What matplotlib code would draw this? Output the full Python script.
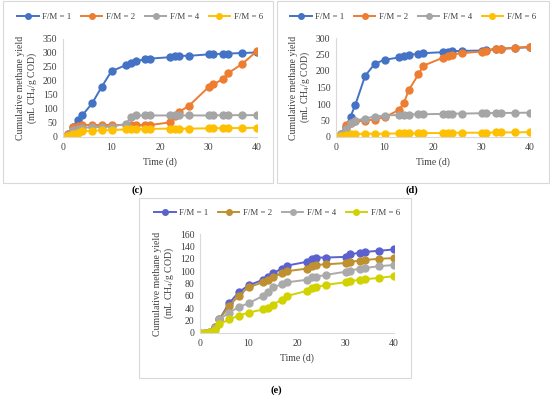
import matplotlib
matplotlib.use("Agg")
import matplotlib.pyplot as plt
from matplotlib.patches import Rectangle

plt.rcParams["font.family"] = ["Liberation Serif", "DejaVu Serif"]
plt.rcParams["mathtext.fontset"] = "custom"
plt.rcParams["mathtext.rm"] = "Liberation Serif"

# sampling days (same for every series)
days = [0, 1, 2, 3, 4, 6, 8, 10, 13, 14, 15, 17, 18, 22, 23, 24, 26, 30, 31, 33, 34, 37, 40]
labels = ["F/M = 1", "F/M = 2", "F/M = 4", "F/M = 6"]

# panel (c)
c_fm1 = [0, 10, 35, 60, 78, 120, 180, 235, 257, 265, 272, 277, 280, 285, 290, 290, 290, 295, 295, 298, 298, 300, 302]
c_fm2 = [0, 10, 35, 40, 43, 43, 43, 43, 43, 43, 43, 43, 43, 52, 75, 90, 112, 178, 188, 207, 227, 262, 307]
c_fm4 = [0, 8, 25, 30, 33, 35, 36, 37, 47, 70, 77, 77, 77, 77, 77, 77, 77, 77, 77, 78, 78, 78, 78]
c_fm6 = [0, 5, 10, 15, 20, 22, 24, 25, 27, 28, 28, 29, 29, 30, 30, 30, 30, 31, 31, 32, 32, 32, 33]

# panel (d)
d_fm1 = [0, 10, 30, 62, 98, 185, 222, 234, 241, 244, 249, 252, 254, 257, 259, 260, 261, 262, 264, 266, 267, 270, 272]
d_fm2 = [0, 10, 35, 42, 47, 50, 53, 60, 82, 103, 142, 190, 216, 240, 245, 250, 254, 259, 262, 267, 268, 270, 274]
d_fm4 = [0, 8, 25, 42, 50, 56, 62, 65, 67, 67, 68, 69, 69, 70, 70, 71, 71, 72, 72, 73, 73, 73, 74]
d_fm6 = [0, 3, 7, 8, 9, 10, 10, 10, 11, 11, 11, 11, 12, 12, 12, 13, 13, 13, 13, 14, 14, 14, 15]

# panel (e)
e_fm1 = [0, 0, 2, 10, 22, 48, 66, 77, 86, 90, 97, 104, 109, 115, 120, 122, 122, 123, 127, 130, 131, 133, 135]
e_fm2 = [0, 0, 2, 10, 22, 44, 60, 74, 82, 85, 90, 97, 100, 104, 108, 110, 111, 113, 115, 117, 118, 120, 121]
e_fm4 = [0, 0, 2, 8, 22, 33, 42, 48, 60, 66, 74, 79, 82, 86, 90, 91, 94, 99, 101, 104, 105, 108, 110]
e_fm6 = [0, 0, 1, 5, 14, 22, 28, 33, 38, 41, 46, 54, 60, 68, 72, 74, 78, 82, 84, 86, 87, 89, 92]

W, H = 550, 396
COLS_CD = ["#4472C4", "#ED7D31", "#A5A5A5", "#FFC000"]
COLS_E = ["#5B62CF", "#BF9030", "#AAAAAA", "#D2D200"]

fig = plt.figure(figsize=(W / 100, H / 100), dpi=100)


def px_axes(x0, x1, ytop, ybot):
    return fig.add_axes([x0 / W, 1 - ybot / H, (x1 - x0) / W, (ybot - ytop) / H])


def box(x0, y0, x1, y1):
    fig.patches.append(Rectangle((x0 / W, 1 - y1 / H), (x1 - x0) / W, (y1 - y0) / H,
                                 transform=fig.transFigure, fill=False,
                                 edgecolor="#D9D9D9", linewidth=0.8))


panels = [
    ((63, 257, 39, 137), [c_fm1, c_fm2, c_fm4, c_fm6], COLS_CD, 350, 50, (140, 17)),
    ((336, 530, 38, 137), [d_fm1, d_fm2, d_fm4, d_fm6], COLS_CD, 300, 50, (413, 17)),
    ((200, 394, 234, 333), [e_fm1, e_fm2, e_fm4, e_fm6], COLS_E, 160, 20, (277, 213)),
]

for (x0, x1, yt, yb), series, cols, ymax, ystep, (lx, ly) in panels:
    ax = px_axes(x0, x1, yt, yb)
    for ys, col, lab in zip(series, cols, labels):
        ax.plot(days, ys, color=col, marker="o", markersize=5, linewidth=1.4, label=lab)
    ax.set_xlim(0, 40)
    ax.set_ylim(0, ymax)
    ax.set_xticks(range(0, 41, 10))
    ax.set_yticks(range(0, ymax + 1, ystep))
    ax.tick_params(length=0, labelsize=7, colors="#404040", pad=4)
    for s in ("top", "right"):
        ax.spines[s].set_visible(False)
    for s in ("left", "bottom"):
        ax.spines[s].set_color("#D9D9D9")
        ax.spines[s].set_linewidth(0.8)
    ax.set_xlabel("Time (d)", fontsize=7, color="#404040", labelpad=4)
    ax.set_ylabel("Cumulative methane yield\n(mL CH$_4$/g COD)", fontsize=7,
                  color="#404040", labelpad=3, linespacing=1.0)
    ax.legend(loc="center", bbox_to_anchor=(lx / W, 1 - ly / H), bbox_transform=fig.transFigure,
              ncol=4, frameon=False, fontsize=6.4, handlelength=2.4, columnspacing=1.1,
              handletextpad=0.4, markerscale=0.8, labelcolor="#404040")

box(3, 1, 273, 183)
box(277, 1, 549, 183)
box(139, 198, 411, 378)

fig.text(137 / W, 1 - 190 / H, "(c)", ha="center", va="center", fontsize=7.5, fontweight="bold")
fig.text(412 / W, 1 - 190 / H, "(d)", ha="center", va="center", fontsize=7.5, fontweight="bold")
fig.text(276 / W, 1 - 390 / H, "(e)", ha="center", va="center", fontsize=7.5, fontweight="bold")

fig.savefig("out.png", dpi=100)
